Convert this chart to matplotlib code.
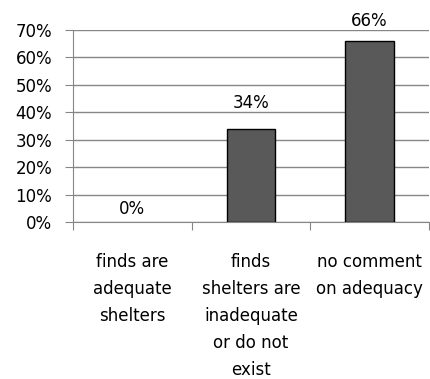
import numpy as np
import matplotlib.pyplot as plt
from matplotlib.ticker import PercentFormatter

categories = ["finds are\nadequate\nshelters",
              "finds\nshelters are\ninadequate\nor do not\nexist",
              "no comment\non adequacy"]
values = [0, 34, 66]
yticks = [0, 10, 20, 30, 40, 50, 60, 70]

plt.rcParams['font.family'] = ['DejaVu Sans']

fig = plt.figure(figsize=(4.3, 3.79), dpi=100)
ax = fig.add_axes([73 / 430, 1 - 222 / 379, (429 - 73) / 430, (222 - 30) / 379])

x = np.arange(len(categories))
bars = ax.bar(x, values, width=0.41, color='#595959', edgecolor='black', linewidth=1, zorder=3)
for b, v in zip(bars, values):
    if v == 0:
        b.set_linewidth(0)

# label gaps above the bar tops, in points
label_gap = [3, 12, 8]
for xi, v, g in zip(x, values, label_gap):
    ax.annotate(f"{v}%", (xi, v), xytext=(0, g), textcoords='offset points',
                ha='center', va='bottom', fontsize=12)

ax.set_xlim(-0.5, 2.5)
ax.set_ylim(0, 70)
ax.set_yticks(yticks)
ax.yaxis.set_major_formatter(PercentFormatter(decimals=0))
ax.grid(axis='y', color='#868686', linewidth=1, zorder=0)

# category ticks sit at the boundaries between bars
ax.set_xticks([-0.5, 0.5, 1.5, 2.5])
ax.set_xticklabels([])
ax.set_xticks(x, minor=True)
ax.set_xticklabels(categories, minor=True, fontsize=12, linespacing=1.65)
ax.tick_params(axis='x', which='minor', length=0, pad=22)
ax.tick_params(axis='x', which='major', length=6, color='#868686')
ax.tick_params(axis='y', length=6, color='#868686', labelsize=12, pad=9)

for s in ['top', 'right']:
    ax.spines[s].set_visible(False)
for s in ['left', 'bottom']:
    ax.spines[s].set_color('#868686')

fig.savefig('out.png', dpi=100)
